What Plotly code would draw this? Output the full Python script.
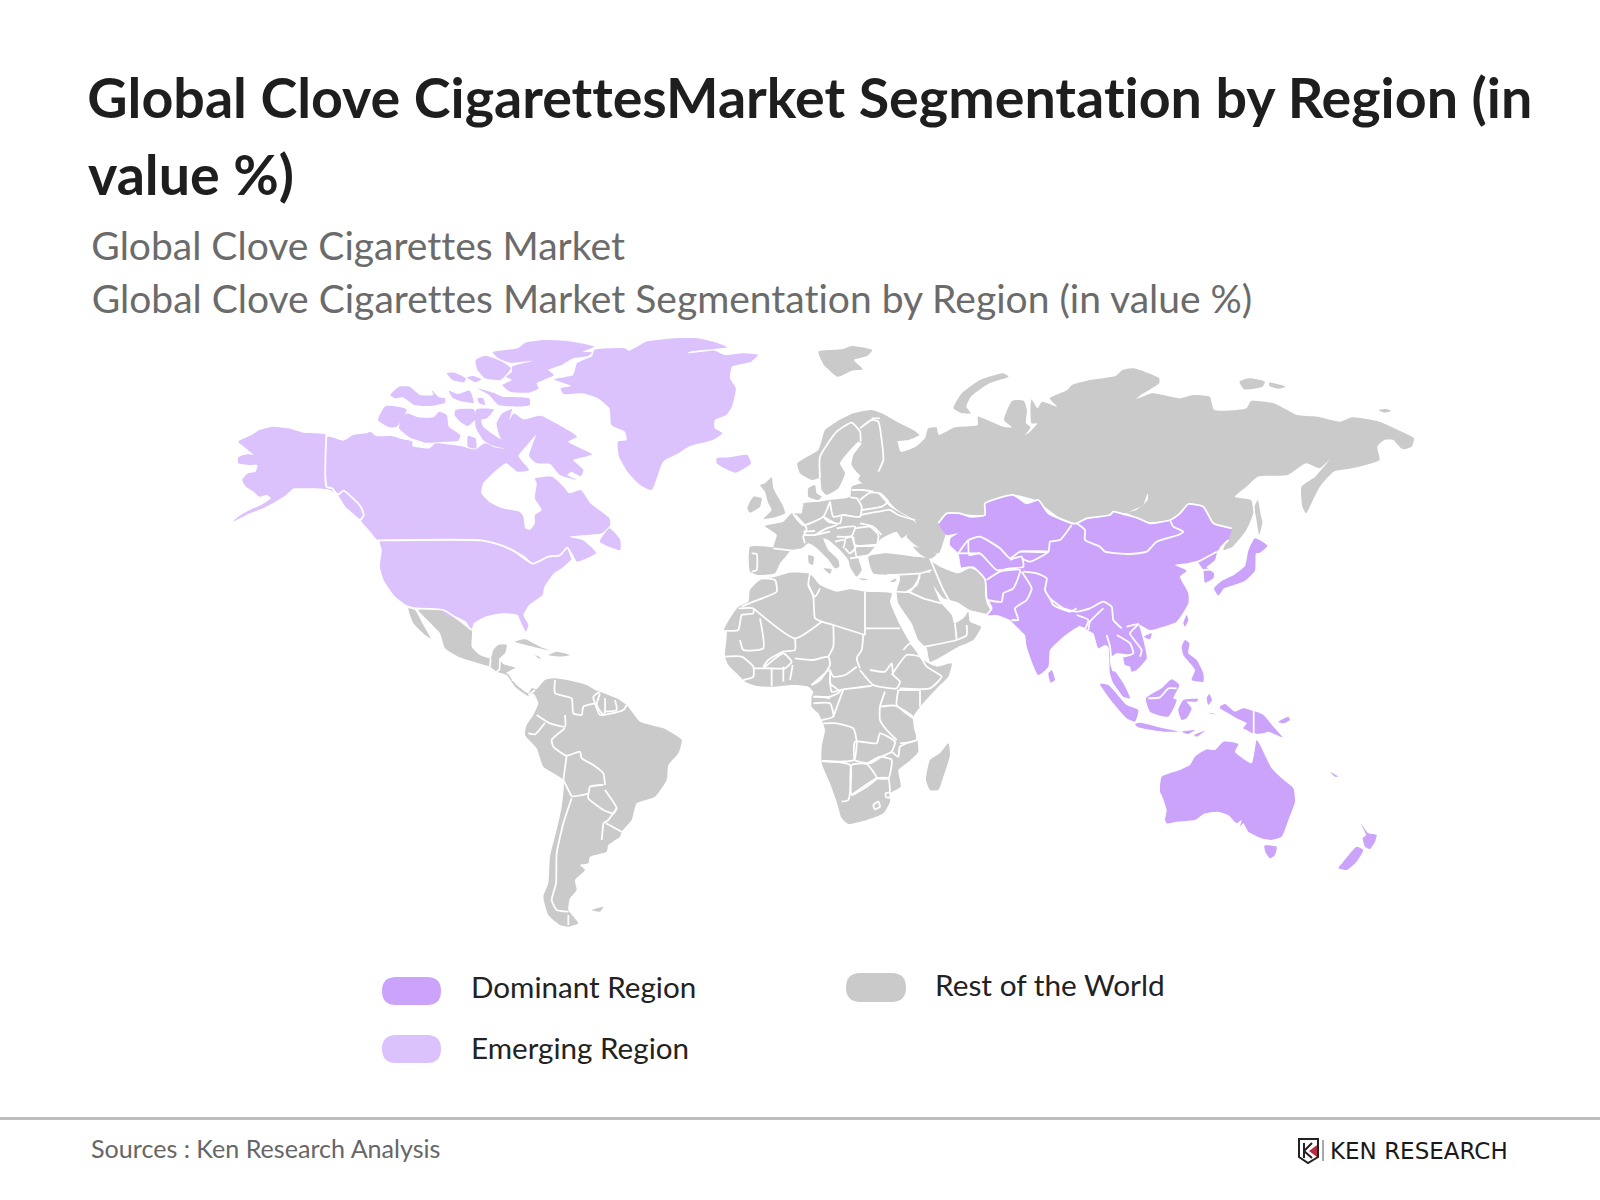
import plotly.graph_objects as go

# plotly's world topojson is fetched from a CDN, so the map outlines are traced by hand
# outlines are in the pixels of the zoom crop they were read from, see the *_CROP tuples
NA_CROP = (200, 320, 2.613, 3)
EA_CROP = (700, 340, 2.178, 3)
EU_CROP = (740, 400, 3, 3)
AF_CROP = (710, 560, 3, 3)
SA_CROP = (400, 590, 3, 3)
AS_CROP = (930, 480, 3, 3)
OC_CROP = (1080, 620, 3, 3)

# emerging region
alaska = [(100,365),(135,345),(155,330),(190,320),(230,325),(270,338),(330,345),(330,500),(345,505),(360,525),(375,512),(395,530),(420,560),(428,585),(418,597),(395,575),(380,560),(360,525),(340,510),(300,505),(265,505),(245,505),(225,525),(190,550),(165,565),(130,580),(105,595),(85,605),(100,590),(130,570),(160,555),(185,535),(175,525),(155,530),(140,515),(120,500),(110,480),(125,460),(145,455),(150,435),(125,435),(100,430),(100,412),(125,402),(140,405),(115,380)]
canada = [(333,350),(375,362),(400,345),(435,340),(445,335),(460,348),(500,348),(530,358),(555,365),(555,378),(600,385),(615,370),(640,372),(690,380),(700,385),(720,388),(745,370),(770,382),(795,385),(780,340),(775,310),(790,280),(815,268),(808,300),(820,280),(845,298),(890,287),(930,310),(985,350),(962,365),(1025,403),(990,415),(975,420),(1002,450),(995,468),(970,455),(960,465),(985,480),(940,465),(915,432),(880,430),(860,408),(878,345),(855,375),(832,408),(860,450),(830,455),(800,430),(765,460),(740,490),(735,520),(755,545),(790,565),(835,575),(845,590),(850,625),(862,630),(875,610),(875,585),(893,570),(875,535),(880,490),(875,475),(920,470),(950,500),(965,520),(995,510),(1020,550),(1070,595),(1072,615),(1050,640),(1010,645),(965,650),(1000,660),(1030,690),(1035,700),(985,725),(975,705),(960,680),(940,705),(910,708),(870,730),(850,710),(820,690),(780,672),(735,660),(465,660),(445,635),(420,600),(428,585),(420,560),(395,530),(375,512),(360,520),(345,505),(333,500)]
usa = [(470,663),(735,663),(780,675),(820,695),(870,733),(910,712),(940,708),(960,685),(972,715),(945,745),(925,760),(900,800),(895,825),(860,855),(845,885),(858,915),(852,935),(838,905),(830,885),(790,880),(745,890),(715,910),(710,930),(695,905),(670,890),(650,890),(630,870),(600,870),(545,858),(510,830),(480,780),(470,740),(475,690)]
newfoundland = [(1070,625),(1045,665),(1098,690),(1098,660)]
ellesmere = [(765,97),(830,85),(850,68),(900,60),(960,63),(1030,80),(1000,95),(1025,97),(1015,108),(975,115),(945,135),(910,150),(925,165),(880,190),(885,205),(860,218),(810,215),(790,195),(815,180),(800,170),(815,155),(815,140),(870,122),(810,128),(780,115)]
devon = [(720,120),(745,107),(790,125),(812,145),(785,180),(745,175),(725,150)]
arctic_a = [(645,160),(665,158),(695,175),(690,187),(660,180)]
arctic_b = [(697,172),(715,168),(735,178),(720,187)]
arctic_c = [(497,225),(520,200),(548,200),(575,225),(610,225),(605,210),(625,232),(640,235),(640,248),(600,258),(560,255),(530,232),(510,235)]
arctic_d = [(650,212),(675,222),(705,212),(715,248),(680,243),(660,233)]
arctic_e = [(725,235),(740,235),(745,255),(730,250)]
arctic_f = [(725,205),(770,220),(790,230),(860,235),(862,255),(830,260),(780,255),(755,225)]
banks = [(465,300),(485,258),(540,268),(515,320),(495,322)]
victoria = [(525,300),(540,280),(570,292),(610,292),(625,275),(645,285),(650,320),(680,345),(675,362),(640,365),(590,368),(545,350),(520,325)]
arctic_g = [(668,270),(715,268),(722,295),(700,318),(680,305),(665,285)]
arctic_h = [(722,268),(768,268),(750,295),(735,300),(740,320),(775,350),(795,365),(798,385),(760,375),(740,360),(720,320)]
arctic_i = [(700,348),(720,355),(722,385),(700,380)]
foxe_isle = [(885,375),(905,372),(905,392),(888,392)]
greenland = [(925,178),(975,165),(985,130),(1025,108),(1030,90),(1110,85),(1120,92),(1150,75),(1165,65),(1240,55),(1300,55),(1350,68),(1378,82),(1280,95),(1275,100),(1345,92),(1372,105),(1420,100),(1458,105),(1440,125),(1390,140),(1385,175),(1400,205),(1390,260),(1375,285),(1345,300),(1345,325),(1365,340),(1340,360),(1280,378),(1250,400),(1210,425),(1180,510),(1150,495),(1120,460),(1095,410),(1092,365),(1115,360),(1110,335),(1075,315),(1070,265),(1040,235),(1000,220),(950,222),(942,205),(970,198)]
iceland = [(1350,415),(1385,412),(1430,405),(1440,430),(1400,458),(1370,445),(1350,430)]

# rest of the world
russia = [(490,295),(497,265),(515,262),(520,285),(555,262),(605,255),(605,230),(625,240),(660,260),(680,262),(662,240),(680,182),(705,182),(712,210),(710,250),(720,262),(700,295),(690,295),(715,280),(735,250),(722,250),(720,200),(722,178),(735,205),(745,185),(778,200),(762,175),(800,150),(810,135),(850,120),(905,108),(920,90),(945,85),(1000,115),(1000,130),(960,165),(950,177),(985,160),(1045,175),(1075,165),(1110,170),(1120,210),(1190,205),(1200,183),(1250,190),(1300,225),(1345,230),(1395,245),(1420,232),(1480,245),(1520,270),(1555,295),(1550,320),(1530,328),(1510,300),(1490,300),(1475,320),(1480,360),(1420,385),(1380,395),(1350,440),(1335,480),(1320,520),(1312,500),(1310,440),(1340,410),(1372,358),(1350,385),(1320,370),(1280,405),(1215,410),(1190,440),(1165,470),(1200,480),(1205,520),(1190,570),(1160,620),(1140,630),(1150,590),(1155,565),(1130,570),(1100,520),(1070,490),(1040,530),(1020,545),(970,545),(930,520),(900,520),(880,540),(840,545),(820,550),(780,530),(730,480),(685,465),(625,490),(620,525),(540,520),(520,550),(535,580),(530,605),(520,640),(480,625),(450,590),(470,545),(430,510),(400,470),(380,450),(345,420),(350,405),(390,395),(395,340),(400,300),(420,295),(430,305),(437,335),(470,320)]
novaya_zemlya = [(552,205),(570,160),(610,120),(660,100),(672,110),(630,130),(590,170),(580,200),(590,220),(570,220)]
svalbard = [(258,35),(310,28),(330,18),(375,30),(365,47),(335,60),(355,88),(330,92),(300,110),(270,75)]
severnaya = [(1175,125),(1195,115),(1230,125),(1225,140),(1185,148)]
anjou = [(1240,128),(1275,140),(1260,146),(1240,138)]
wrangel = [(1478,210),(1495,207),(1505,213),(1490,218)]
sakhalin = [(1215,480),(1222,530),(1225,545),(1218,585),(1212,540),(1208,500)]
scandinavia = [(172,190),(235,150),(255,90),(290,65),(340,40),(395,30),(430,42),(470,65),(520,90),(538,105),(505,120),(470,125),(465,150),(440,150),(430,200),(415,218),(360,225),(335,195),(340,165),(365,130),(355,125),(330,150),(300,190),(315,220),(295,265),(260,285),(245,270),(240,235),(215,240),(180,220)]
denmark = [(205,265),(225,255),(230,280),(245,290),(235,300),(205,290)]
europe = [(75,378),(130,365),(155,340),(185,340),(190,310),(240,305),(270,300),(330,290),(335,260),(370,250),(400,265),(450,320),(525,365),(520,385),(485,415),(470,395),(425,415),(405,440),(385,465),(355,470),(365,510),(350,530),(330,500),(325,480),(300,450),(265,420),(250,415),(265,450),(295,480),(298,500),(285,505),(262,475),(225,440),(205,430),(185,445),(150,450),(100,445),(110,405)]
iberia = [(30,440),(80,440),(150,450),(120,490),(105,520),(55,525),(30,515)]
ireland = [(22,325),(40,290),(65,295),(60,320),(30,338)]
britain = [(60,255),(75,250),(95,232),(100,265),(130,320),(135,340),(105,352),(70,357),(95,330),(85,310),(75,275)]
sardinia = [(205,465),(222,470),(218,495),(207,490)]
sicily = [(250,505),(275,508),(270,522)]
crete = [(355,535),(385,538),(370,541)]
cyprus = [(450,545),(470,535),(465,545)]
turkey = [(385,470),(440,460),(520,470),(565,475),(575,510),(510,525),(440,525),(400,520)]
caucasus = [(520,440),(590,462),(570,478),(540,462)]
iran = [(655,0),(690,20),(745,40),(780,25),(830,50),(825,90),(830,130),(848,163),(800,155),(780,150),(745,128),(720,120),(700,115),(670,75),(660,40)]
arabia = [(570,45),(630,38),(665,40),(670,75),(690,125),(725,165),(733,190),(760,175),(775,155),(780,185),(813,200),(790,240),(745,260),(660,305),(650,265),(625,240),(605,190),(565,130),(560,95),(570,60)]
africa = [(120,90),(150,60),(190,52),(240,38),(300,42),(330,75),(380,95),(420,88),(465,95),(545,100),(540,125),(570,195),(595,240),(640,300),(680,320),(725,310),(715,350),(690,375),(635,435),(610,470),(612,505),(622,540),(625,575),(590,610),(565,630),(572,680),(540,700),(540,725),(520,760),(470,780),(415,792),(395,775),(380,725),(360,670),(335,610),(335,560),(345,510),(335,480),(325,460),(305,440),(305,410),(310,395),(295,380),(250,375),(190,380),(140,378),(105,365),(80,340),(55,315),(45,290),(50,215),(42,210),(60,175),(85,140),(115,125)]
madagascar = [(715,550),(720,585),(700,650),(685,690),(660,690),(648,660),(660,600),(690,580)]
latin_america = [(55,60),(130,60),(170,85),(215,120),(215,170),(240,195),(272,205),(280,180),(295,165),(320,165),(315,190),(300,205),(310,222),(350,235),(325,250),(350,285),(385,310),(395,295),(410,297),(435,270),(465,265),(500,270),(560,285),(585,300),(600,305),(650,325),(680,345),(720,395),(790,415),(845,450),(835,490),(805,525),(800,570),(765,620),(710,640),(695,690),(665,725),(660,740),(625,765),(620,785),(570,800),(565,820),(540,825),(555,840),(525,870),(530,900),(510,925),(505,960),(535,1000),(505,1010),(480,1005),(445,975),(430,920),(445,880),(450,800),(470,720),(485,650),(490,570),(430,530),(410,475),(375,435),(380,405),(400,375),(415,340),(400,310),(385,318),(345,290),(320,255),(290,245),(270,230),(230,218),(175,200),(135,175),(120,130),(92,100)]
baja = [(25,55),(45,60),(70,105),(92,145),(75,135),(40,100)]
cuba = [(345,155),(375,148),(420,170),(450,182),(400,170)]
hispaniola = [(445,195),(470,185),(510,195),(480,200)]
jamaica = [(405,195),(425,205),(415,205)]
falklands = [(575,960),(610,950),(600,965)]

# dominant region
asia_main = [(25,130),(50,100),(90,100),(120,110),(165,105),(165,70),(250,45),(290,70),(325,60),(355,100),(425,130),(440,130),(470,115),(540,105),(550,95),(590,105),(625,115),(660,130),(720,120),(750,100),(775,72),(820,80),(850,130),(905,145),(895,180),(870,205),(860,215),(810,240),(770,250),(735,255),(770,272),(750,290),(775,340),(775,370),(740,425),(700,440),(660,450),(625,432),(630,445),(640,480),(650,535),(620,570),(605,575),(600,560),(585,555),(580,530),(600,525),(560,520),(540,535),(555,600),(595,650),(580,645),(550,610),(540,580),(535,500),(525,495),(505,505),(490,460),(472,450),(465,445),(445,440),(400,470),(360,510),(355,560),(325,585),(290,500),(285,465),(275,455),(245,425),(240,420),(200,405),(170,405),(185,385),(170,355),(165,300),(130,262),(95,265),(85,220),(60,195),(62,175),(85,160),(50,165),(40,155)]
korea = [(805,245),(860,215),(855,240),(830,262),(852,280),(850,295),(825,308),(820,270)]
japan = [(975,175),(1012,197),(990,218),(978,220),(975,272),(945,302),(905,317),(882,325),(865,347),(852,325),(875,303),(912,285),(945,258),(955,212)]
sri_lanka = [(355,580),(365,570),(375,600),(362,608)]
hainan = [(642,470),(665,460),(660,478)]
taiwan = [(770,405),(775,420),(765,440),(760,430)]
philippines = [(765,480),(778,490),(775,520),(800,540),(820,580),(820,605),(785,600),(795,570),(760,525),(755,500)]
sumatra = [(60,192),(85,195),(140,255),(175,270),(165,305),(140,295),(100,250)]
malaya = [(90,155),(105,155),(130,190),(150,235),(130,230),(105,195)]
borneo = [(198,235),(245,205),(275,178),(298,195),(280,235),(290,240),(265,290),(210,275)]
sulawesi = [(295,270),(310,240),(355,237),(350,245),(320,245),(335,265),(320,295),(305,300)]
java = [(165,312),(180,308),(250,325),(295,335),(250,335),(175,322)]
sunda_a = [(305,335),(345,330),(325,342)]
timor = [(342,345),(375,332),(350,350)]
seram = [(385,278),(410,283),(395,282)]
halmahera = [(380,235),(388,222),(396,240),(385,255)]
papua = [(420,260),(435,252),(465,275),(490,265),(520,275),(520,340),(500,330),(490,325),(500,310),(470,295),(445,280),(420,265)]
png = [(523,275),(550,285),(580,320),(608,352),(565,335),(550,340),(523,340)]
new_britain = [(595,305),(625,290),(630,300),(610,310)]
new_caledonia = [(750,455),(775,470),(765,470)]
australia = [(240,515),(245,470),(300,450),(330,435),(345,410),(380,388),(405,390),(430,365),(475,372),(465,395),(515,430),(530,360),(540,375),(575,445),(605,475),(640,505),(645,545),(625,600),(605,650),(570,660),(545,655),(505,635),(490,610),(480,620),(485,600),(470,610),(445,585),(415,575),(375,580),(345,600),(290,605),(260,610),(255,600),(260,570),(245,525)]
tasmania = [(553,677),(590,680),(585,705),(570,715),(558,700)]
nz_north = [(843,612),(865,640),(890,645),(885,665),(870,687),(855,680),(848,655),(858,645)]
nz_south = [(830,680),(850,690),(830,725),(800,750),(775,745),(790,725)]

baikal = [(975,460),(965,495),(935,515),(950,510),(975,480)]

# country borders, each list one white line
na_borders = [
    [(330,345),(330,500),(345,505),(360,525),(375,512),(395,530),(420,560),(428,585),(420,600)],
    [(465,661),(735,661),(780,673),(820,693),(870,731),(910,710),(940,706),(960,683),(972,715)],
]
eu_borders = [
    [(240,235),(240,170),(290,95),(335,68),(360,95),(362,125)],
    [(360,85),(395,60),(415,65),(425,120),(430,180),(415,215)],
    [(395,55),(420,55)],
    [(335,270),(370,270),(400,275)],
    [(270,305),(280,350),(310,345),(360,350),(365,320),(350,295),(330,292)],
    [(365,330),(425,320),(445,305),(420,280),(390,278),(360,300)],
    [(360,345),(415,335),(450,330),(475,345),(525,360)],
    [(360,370),(400,380),(425,405)],
    [(190,315),(160,340),(190,375),(250,350),(270,305)],
    [(165,345),(200,385),(190,410),(195,430)],
    [(100,445),(155,452)],
    [(35,460),(50,462),(50,510),(35,515)],
    [(190,405),(225,405),(270,395)],
    [(190,395),(225,393)],
    [(225,405),(260,385),(290,375),(250,350)],
    [(250,350),(265,365),(300,370),(305,350)],
    [(290,385),(345,380),(335,408),(290,410)],
    [(345,385),(390,380),(415,405),(410,435),(345,435),(340,410)],
    [(345,440),(410,435),(385,465),(350,470),(345,445)],
    [(315,415),(335,410),(345,445),(330,460),(315,445)],
    [(285,425),(315,420),(310,445)],
    [(330,475),(385,468)],
    [(440,525),(540,520),(575,510)],
    [(540,520),(530,555),(500,575)],
    [(570,475),(610,570),(650,640)],
]
af_borders = [
    [(95,140),(130,125),(200,95),(195,60),(155,55)],
    [(45,212),(85,210),(95,165),(130,160),(130,145),(85,145)],
    [(295,75),(310,110),(315,175),(335,185)],
    [(300,40),(295,75),(315,110),(330,85)],
    [(130,145),(255,235),(335,185)],
    [(150,175),(160,265),(100,270),(90,240)],
    [(255,235),(255,270),(220,275),(175,300),(160,320)],
    [(465,95),(465,225)],
    [(335,185),(370,195),(465,225)],
    [(460,225),(455,270),(440,295),(450,325)],
    [(465,205),(570,205)],
    [(370,195),(370,260),(355,290)],
    [(255,295),(310,300),(355,290),(360,315),(330,360),(305,375)],
    [(360,330),(370,350),(405,345),(440,320)],
    [(360,350),(365,395),(400,388),(480,378),(490,375)],
    [(450,330),(490,375),(560,385),(570,365),(550,345),(545,310),(525,335),(480,330)],
    [(545,345),(590,285),(630,290),(650,320),(695,350),(660,385),(570,385)],
    [(580,270),(600,250),(640,300)],
    [(630,390),(630,440)],
    [(565,390),(560,435),(610,475)],
    [(565,390),(630,390)],
    [(525,395),(510,440),(510,480),(530,510),(560,540)],
    [(510,440),(555,437),(610,472),(620,540),(570,550)],
    [(310,410),(330,410),(360,415)],
    [(435,545),(500,550),(510,520),(555,545),(545,575),(515,590),(480,610),(435,600),(435,545)],
    [(340,490),(380,490),(430,505),(440,545),(432,600),(335,603)],
    [(335,603),(420,615),(415,720),(395,725)],
    [(425,615),(470,612),(500,655),(470,680),(445,695),(425,705),(425,615)],
    [(470,612),(510,590),(545,600),(535,655),(500,655)],
    [(545,575),(565,590),(570,560),(620,540)],
    [(425,705),(500,655),(535,655),(540,695)],
    [(490,735),(505,725),(510,740),(495,748),(490,735)],
    [(527,700),(540,697),(540,712),(528,712),(527,700)],
    [(45,290),(95,290),(130,320),(130,350),(100,360)],
    [(160,325),(220,280),(245,305),(225,325),(185,325)],
    [(185,325),(185,378)],
    [(220,320),(220,365)],
    [(240,360),(248,315)],
    [(130,325),(185,325)],
    [(310,430),(360,430),(370,470),(335,480)],
    [(305,375),(360,330),(360,370),(390,395),(360,410),(310,410)],
    [(370,470),(400,388)],
    [(645,260),(740,240),(770,225),(770,195)],
    [(740,240),(735,190)],
    [(595,95),(640,115),(695,130)],
    [(560,95),(600,95),(630,50)],
]
sa_borders = [
    [(45,55),(130,60),(170,85),(215,120)],
    [(272,205),(270,230)],
    [(300,205),(298,238),(290,245)],
    [(320,250),(350,235)],
    [(335,270),(355,270)],
    [(385,315),(405,300)],
    [(465,270),(465,310),(515,325),(520,370),(545,375),(550,350),(585,340)],
    [(585,340),(580,320),(598,305)],
    [(600,310),(590,345),(610,375),(615,360),(615,325)],
    [(645,330),(650,360),(615,365)],
    [(585,340),(600,375),(670,360),(680,345)],
    [(495,375),(495,410),(450,400),(410,375)],
    [(385,430),(405,433),(435,398)],
    [(495,415),(455,450),(460,470),(500,497),(540,485),(545,505),(580,525),(610,550),(615,585)],
    [(500,497),(490,570)],
    [(490,570),(515,620)],
    [(515,620),(565,610),(570,590),(610,585)],
    [(565,610),(565,625),(610,660),(640,670),(650,655),(615,600)],
    [(650,655),(625,690),(610,700)],
    [(618,700),(665,725)],
    [(610,700),(605,750)],
    [(515,625),(490,700),(470,790),(468,880),(455,930),(470,960),(505,965)],
    [(505,975),(505,1005)],
]
as_borders = [
    [(25,130),(50,100),(90,100),(120,110),(165,105),(165,70),(250,45),(290,70),(325,60),(355,100),(425,130),(440,130),(470,115),(540,105),(550,95),(590,105),(625,115),(660,130),(720,120),(750,100),(775,72),(820,80),(850,130),(905,145)],
    [(95,265),(130,262),(165,298),(170,355),(185,385),(170,405)],
    [(85,220),(115,180),(150,170),(210,205),(240,235),(270,215),(355,215),(360,185),(390,180),(425,135)],
    [(115,180),(118,225),(150,220),(200,270),(240,265)],
    [(85,220),(150,220)],
    [(270,215),(355,215),(300,245),(275,235)],
    [(240,240),(275,230),(280,260),(240,265)],
    [(170,300),(210,275),(270,270),(250,325),(220,340),(215,365),(170,360)],
    [(275,275),(305,325),(290,360),(255,385),(265,420),(245,420)],
    [(440,130),(465,150),(465,180),(510,200),(525,215),(600,222),(650,215),(680,185),(745,165),(760,155),(730,140),(720,120)],
    [(280,275),(320,280),(350,295),(345,330),(360,355),(400,385),(440,395),(480,385),(520,365),(545,380),(550,420),(575,445)],
    [(360,355),(370,375),(420,395),(440,385)],
    [(440,405),(475,420),(465,445),(445,440)],
    [(475,450),(480,425),(520,385)],
    [(530,465),(540,500),(545,560)],
    [(560,465),(600,490),(610,520),(580,530)],
    [(590,440),(625,432),(600,460),(635,510),(630,530)],
    [(805,245),(860,215)],
    [(820,270),(850,268)],
    [(895,180),(870,205)],
]
oc_borders = [
    [(205,235),(240,232),(265,205),(290,205)],
    [(521,275),(521,340)],
]

rest_shapes = [
    (EA_CROP, [russia, novaya_zemlya, svalbard, severnaya, anjou, wrangel, sakhalin]),
    (EU_CROP, [scandinavia, denmark, europe, iberia, ireland, britain, sardinia, sicily, crete, cyprus, turkey, caucasus]),
    (AF_CROP, [iran, arabia, africa, madagascar]),
    (SA_CROP, [latin_america, baja, cuba, hispaniola, jamaica, falklands]),
]
emerging_shapes = [
    (NA_CROP, [alaska, canada, usa, newfoundland, ellesmere, devon, arctic_a, arctic_b, arctic_c, arctic_d,
               arctic_e, arctic_f, banks, victoria, arctic_g, arctic_h, arctic_i, foxe_isle, greenland, iceland]),
]
dominant_shapes = [
    (AS_CROP, [asia_main, korea, japan, sri_lanka, hainan, taiwan, philippines]),
    (OC_CROP, [sumatra, malaya, borneo, sulawesi, java, sunda_a, timor, seram, halmahera, papua, png,
               new_britain, new_caledonia, australia, tasmania, nz_north, nz_south]),
]
border_lines = [
    (NA_CROP, na_borders), (EU_CROP, eu_borders), (AF_CROP, af_borders),
    (SA_CROP, sa_borders), (AS_CROP, as_borders), (OC_CROP, oc_borders),
]

title_lines = ["Global Clove CigarettesMarket Segmentation by Region (in", "value %)"]
subtitle_lines = ["Global Clove Cigarettes Market", "Global Clove Cigarettes Market Segmentation by Region (in value %)"]
legend_names = ["Dominant Region", "Emerging Region", "Rest of the World"]

DOMINANT = "#CBA3FB"
EMERGING = "#DCC2FD"
REST = "#CACACA"


def to_map(pts, crop):
    x0, y0, sx, sy = crop
    return [x0 + p[0] / sx for p in pts], [y0 + p[1] / sy for p in pts]


def add_land(fig, groups, color):
    for crop, shapes in groups:
        for pts in shapes:
            xs, ys = to_map(pts + pts[:1], crop)
            fig.add_trace(go.Scatter(x=xs, y=ys, mode="lines", fill="toself", fillcolor=color,
                                     line=dict(width=0, color=color, shape="spline", smoothing=0.5),
                                     hoverinfo="skip", showlegend=False))


fig = go.Figure()
add_land(fig, rest_shapes, REST)
add_land(fig, emerging_shapes, EMERGING)
add_land(fig, dominant_shapes, DOMINANT)
add_land(fig, [(EA_CROP, [baikal])], "white")

for crop, lines in border_lines:
    for pts in lines:
        xs, ys = to_map(pts, crop)
        fig.add_trace(go.Scatter(x=xs, y=ys, mode="lines",
                                 line=dict(color="white", width=1.8, shape="spline", smoothing=0.5),
                                 hoverinfo="skip", showlegend=False))


def pill(x0, x1, y0, y1, color):
    r = (y1 - y0) / 2
    path = (f"M{x0 + r},{y0} L{x1 - r},{y0} Q{x1},{y0} {x1},{y0 + r} Q{x1},{y1} {x1 - r},{y1} "
            f"L{x0 + r},{y1} Q{x0},{y1} {x0},{y0 + r} Q{x0},{y0} {x0 + r},{y0} Z")
    return dict(type="path", path=path, fillcolor=color, line=dict(width=0), xref="x", yref="y")


def label(text, x, y, size, color, family="Lato", bold=False):
    txt = f"<b>{text}</b>" if bold else text
    fig.add_annotation(x=x, y=y, xref="x", yref="y", text=txt, showarrow=False, xanchor="left", yanchor="middle",
                       font=dict(family=family, size=size, color=color))


label(title_lines[0], 85.5, 96, 55.6, "#1E1E1E", bold=True)
label(title_lines[1], 85.5, 173, 55.6, "#1E1E1E", bold=True)
label(subtitle_lines[0], 89.5, 244.5, 39, "#6B6B6B")
label(subtitle_lines[1], 89.5, 297.5, 39, "#6B6B6B")
label(legend_names[0], 469, 986.5, 29.6, "#222222")
label(legend_names[1], 469, 1047, 29.6, "#222222")
label(legend_names[2], 933, 984, 29.8, "#222222")
label("Sources : Ken Research Analysis", 89, 1148, 25.1, "#666666")
label("KEN RESEARCH", 1328, 1151, 23, "#1A1A1A", family="DejaVu Sans")

shapes = [
    pill(382, 441, 977, 1005, DOMINANT),
    pill(382, 441, 1035, 1063, EMERGING),
    pill(846, 906, 973, 1002, REST),
    dict(type="line", x0=0, x1=1600, y0=1118.5, y1=1118.5, xref="x", yref="y", line=dict(color="#BDBDBD", width=3)),
    dict(type="line", x0=1323, x1=1323, y0=1140, y1=1161, xref="x", yref="y", line=dict(color="#555555", width=1)),
    dict(type="path", path="M1299,1139 L1318,1139 L1318,1157 L1308,1163 L1299,1157 Z", xref="x", yref="y",
         fillcolor="white", line=dict(color="#222222", width=2)),
    dict(type="path", path="M1304,1143 L1304,1158 M1304,1151 L1312,1143 M1304,1151 L1312,1158", xref="x", yref="y",
         line=dict(color="#222222", width=2)),
    dict(type="path", path="M1317,1145 L1309,1151 L1317,1157 Z", xref="x", yref="y",
         fillcolor="#B5303F", line=dict(width=0)),
]

fig.update_layout(
    width=1600, height=1200,
    margin=dict(l=0, r=0, t=0, b=0),
    paper_bgcolor="white", plot_bgcolor="white",
    xaxis=dict(range=[0, 1600], visible=False, fixedrange=True),
    yaxis=dict(range=[1200, 0], visible=False, fixedrange=True),
    shapes=shapes,
    showlegend=False,
)
# page margin off so the figure fills the window, no tt/ti ligatures in Lato
page_css = ("document.body.style.margin='0';"
            "document.head.insertAdjacentHTML('beforeend','<style>text,tspan{font-variant-ligatures:none !important;"
            "font-feature-settings:\"liga\" 0 !important}</style>');")
fig.write_html("out.html", config={"displayModeBar": False}, post_script=page_css)
